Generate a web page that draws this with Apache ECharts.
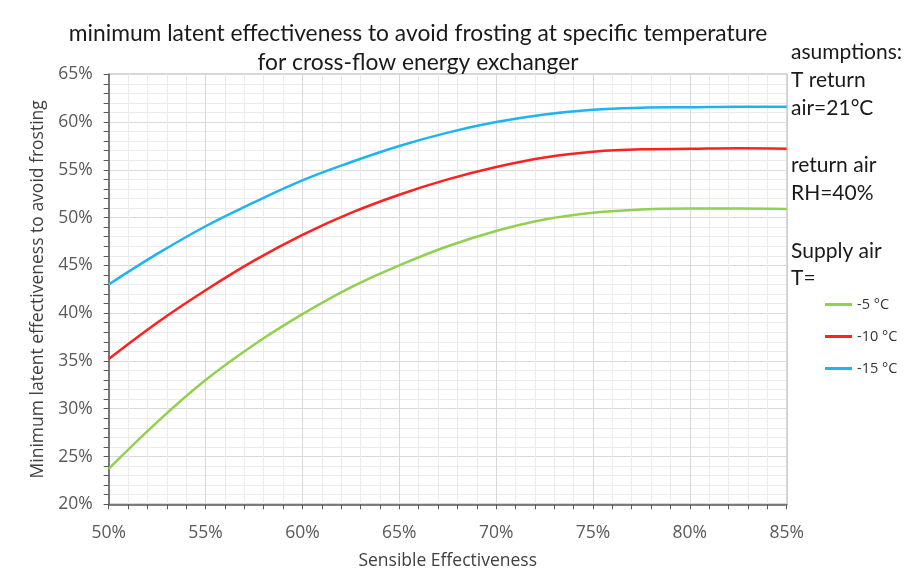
<!DOCTYPE html>
<html><head><meta charset="utf-8">
<script src="https://cdn.jsdelivr.net/npm/echarts@6/dist/echarts.min.js"></script>
<style>html,body{margin:0;padding:0;background:#fff}#c{width:911px;height:582px}</style>
</head><body><div id="c"></div>
<script>
const sensible = [50, 52.5, 55, 57.5, 60, 62.5, 65, 67.5, 70, 72.5, 75, 77.5, 80, 82.5, 85];
const minus5 =  [23.7, 28.6, 33.0, 36.7, 39.9, 42.7, 45.0, 47.0, 48.6, 49.8, 50.5, 50.85, 50.95, 50.95, 50.9];
const minus10 = [35.2, 39.0, 42.4, 45.5, 48.2, 50.5, 52.4, 54.0, 55.3, 56.3, 56.9, 57.15, 57.2, 57.25, 57.2];
const minus15 = [43.0, 46.2, 49.1, 51.6, 53.9, 55.8, 57.5, 58.9, 60.0, 60.8, 61.3, 61.5, 61.55, 61.6, 61.6];
const seriesNames = ['-5 °C', '-10 °C', '-15 °C'];
const colors = ['#92d050', '#ff2020', '#1eb4f0'];
const notes = [
  {t:'asumptions:', y:55}, {t:'T return', y:83}, {t:'air=21°C', y:111},
  {t:'return air', y:168}, {t:'RH=40%', y:196}, {t:'Supply air', y:254}, {t:'T=', y:281}
];
const pair = (ys) => sensible.map((x, i) => [x, ys[i]]);
const font = 'Open Sans';
const chart = echarts.init(document.getElementById('c'));
chart.setOption({
  animation: false,
  backgroundColor: '#fff',
  title: {
    text: 'minimum latent effectiveness to avoid frosting at specific temperature\nfor cross-flow energy exchanger',
    left: 413, top: 14, textAlign: 'center',
    textStyle: {fontFamily: 'Lato', fontSize: 22.8, fontWeight: 'normal', color: '#1a1a1a', lineHeight: 29}
  },
  legend: {
    orient: 'vertical', left: 820, top: 292, itemGap: 17,
    icon: 'rect', itemWidth: 27, itemHeight: 3,
    textStyle: {fontFamily: font, fontSize: 14.5, color: '#333333'},
    data: seriesNames
  },
  grid: {left: 108.7, right: 124.3, top: 74.3, bottom: 77.7, show: true, borderColor: '#595959', borderWidth: 1.2},
  xAxis: {
    type: 'value', min: 50, max: 85, interval: 5,
    name: 'Sensible Effectiveness', nameLocation: 'middle', nameGap: 48,
    nameTextStyle: {fontFamily: font, fontSize: 17.5, color: '#404040'},
    axisLine: {lineStyle: {color: '#595959', width: 1.5}},
    axisTick: {show: true, length: 5, lineStyle: {color: '#595959'}},
    minorTick: {show: true, splitNumber: 5, length: 5, lineStyle: {color: '#595959'}},
    splitLine: {show: true, lineStyle: {color: '#d9d9d9', width: 1}},
    minorSplitLine: {show: true, lineStyle: {color: '#ebebeb', width: 1}},
    axisLabel: {formatter: v => v + '%', fontFamily: font, fontSize: 17.5, color: '#595959', margin: 20}
  },
  yAxis: {
    type: 'value', min: 20, max: 65, interval: 5,
    name: 'Minimum latent effectiveness to avoid frosting', nameLocation: 'middle', nameGap: 58,
    nameTextStyle: {fontFamily: font, fontSize: 17.5, color: '#404040'},
    axisLine: {show: true, lineStyle: {color: '#595959', width: 1.5}},
    axisTick: {show: true, length: 5, lineStyle: {color: '#595959'}},
    minorTick: {show: true, splitNumber: 5, length: 5, lineStyle: {color: '#595959'}},
    splitLine: {show: true, lineStyle: {color: '#d9d9d9', width: 1}},
    minorSplitLine: {show: true, lineStyle: {color: '#ebebeb', width: 1}},
    axisLabel: {formatter: v => v + '%', fontFamily: font, fontSize: 17.5, color: '#595959', margin: 16}
  },
  graphic: notes.map(n => ({
    type: 'text', left: 791, top: n.y - 13,
    style: {text: n.t, fontFamily: 'Lato', fontSize: 21, fill: '#1a1a1a'}
  })),
  series: [minus5, minus10, minus15].map((d, i) => ({
    name: seriesNames[i], type: 'line', data: pair(d), smooth: 0.4, showSymbol: false,
    lineStyle: {color: colors[i], width: 2.5}, itemStyle: {color: colors[i]}
  }))
});
</script></body></html>
